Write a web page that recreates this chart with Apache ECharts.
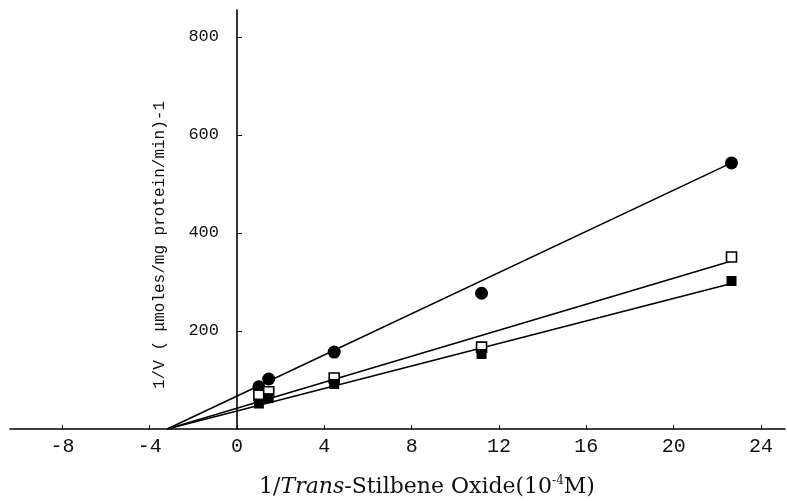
<!DOCTYPE html>
<html>
<head>
<meta charset="utf-8">
<script src="https://cdn.jsdelivr.net/npm/echarts@6/dist/echarts.min.js"></script>
<style>
  html, body { margin: 0; padding: 0; background: #fff; }
  #chart { width: 787px; height: 501px; }
</style>
</head>
<body>
<div id="chart"></div>
<script>
// 1/[S] values (10^4 M^-1) and 1/V values
var xVals = [1.0, 1.45, 4.45, 11.2, 22.65];
var circleVals = [86, 102, 157, 277, 543];
var openSquareVals = [69, 76, 104, 167, 351];
var filledSquareVals = [52, 63, 92, 153, 302];

// fitted lines: common x intercept and end value of each line
var lineStartX = -3.2;
var lineEndX = 22.65;
var lineEnds = [543, 343, 297];

var xTicks = [-8, -4, 0, 4, 8, 12, 16, 20, 24];
var yTicks = [200, 400, 600, 800];

function pairs(ys) {
	return xVals.map(function (x, i) { return [x, ys[i]]; });
}

var mono = 'Liberation Mono';
var xMin = -10.4, xMax = 25.1;
var gridLeft = 10, gridRight = 2;
// y axis sits at x = 0; shift it inward from the grid's left edge
var yOffset = -Math.round((0 - xMin) / (xMax - xMin) * (787 - gridLeft - gridRight));

var myChart = echarts.init(document.getElementById('chart'));

var lineSeries = lineEnds.map(function (end) {
	return {
		type: 'line',
		data: [[lineStartX, 0], [lineEndX, end]],
		symbol: 'none',
		lineStyle: { color: '#000', width: 1.6 },
		z: 2
	};
});

var option = {
	animation: false,
	grid: { left: gridLeft, right: gridRight, top: 10, bottom: 72, containLabel: false, outerBoundsMode: 'none' },
	xAxis: {
		type: 'value',
		min: xMin,
		max: xMax,
		splitLine: { show: false },
		axisLine: { lineStyle: { color: '#000', width: 1.6 } },
		axisTick: { inside: true, length: 4, customValues: xTicks, lineStyle: { color: '#000' } },
		axisLabel: {
			customValues: xTicks,
			color: '#111',
			fontFamily: mono,
			fontSize: 20,
			margin: 8
		}
	},
	yAxis: {
		type: 'value',
		min: 0,
		max: 855,
		position: 'left',
		offset: yOffset,
		splitLine: { show: false },
		axisLine: { onZero: false, lineStyle: { color: '#000', width: 1.6 } },
		axisTick: { inside: true, length: 5, customValues: yTicks, lineStyle: { color: '#000' } },
		axisLabel: {
			customValues: yTicks,
			color: '#111',
			fontFamily: mono,
			fontSize: 17,
			margin: 18
		}
	},
	graphic: [
		{
			type: 'text',
			x: 160,
			y: 245,
			rotation: Math.PI / 2,
			style: {
				text: '1/V ( μmoles/mg protein/min)-1',
				font: '16px "Liberation Mono"',
				fill: '#111',
				align: 'center',
				verticalAlign: 'middle'
			}
		},
		{
			type: 'text',
			x: 427,
			y: 487,
			style: {
				text: '{a|1/}{i|Trans}{a|-Stilbene Oxide(10}{s|-4}{a|M)}',
				align: 'center',
				verticalAlign: 'middle',
				rich: {
					a: { font: '22px "DejaVu Serif"', fill: '#111' },
					i: { font: 'italic 22px "DejaVu Serif"', fill: '#111' },
					s: { font: '12px "DejaVu Serif"', fill: '#111', verticalAlign: 'top', padding: [0, 0, 12, 0] }
				}
			}
		}
	],
	series: lineSeries.concat([
		{
			type: 'scatter',
			data: pairs(circleVals),
			symbol: 'circle',
			symbolSize: 13,
			itemStyle: { color: '#000', opacity: 1 },
			z: 3
		},
		{
			type: 'scatter',
			data: pairs(openSquareVals),
			symbol: 'rect',
			symbolSize: 10,
			itemStyle: { color: '#fff', borderColor: '#000', borderWidth: 1.6, opacity: 1 },
			z: 3
		},
		{
			type: 'scatter',
			data: pairs(filledSquareVals),
			symbol: 'rect',
			symbolSize: 10,
			itemStyle: { color: '#000', opacity: 1 },
			z: 3
		}
	])
};

myChart.setOption(option);
</script>
</body>
</html>
